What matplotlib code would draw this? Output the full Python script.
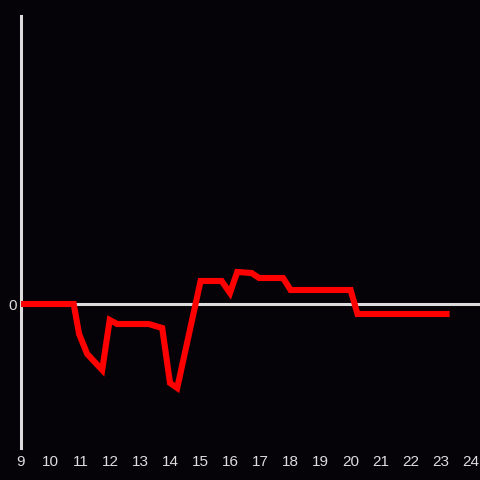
import matplotlib
matplotlib.use("Agg")
import matplotlib.pyplot as plt

hours = [9.0, 10.77, 10.95, 11.22, 11.72, 11.97, 12.22, 13.27, 13.72, 13.98, 14.22,
         15.0, 15.7, 15.98, 16.22, 16.7, 16.95, 17.75, 18.0, 20.0, 20.23, 23.3]
values = [0.0, 0.0, -3.0, -5.0, -6.6, -1.6, -2.0, -2.0, -2.4, -7.9, -8.4,
          2.3, 2.3, 1.1, 3.2, 3.1, 2.6, 2.6, 1.4, 1.4, -1.0, -1.0]
xticks = list(range(9, 25))
yticks = [0]

bg = "#050308"
fg = "#dcdcdc"

fig = plt.figure(figsize=(4.8, 4.8), dpi=100, facecolor=bg)
ax = fig.add_axes([20.6/480, 32/480, 459.4/480, 432/480], facecolor=bg)
ax.set_xlim(9, 9 + 459.4/30)
ax.set_ylim(-14.4, 28.8)

ax.axhline(0, color=fg, lw=2.2, zorder=1)
ax.plot(hours, values, color="#ff0000", lw=4.4, solid_joinstyle="miter",
        solid_capstyle="butt", zorder=3)

for s in ["top", "right", "bottom"]:
    ax.spines[s].set_visible(False)
ax.spines["left"].set_color(fg)
ax.spines["left"].set_linewidth(2.2)
ax.spines["left"].set_zorder(2)

ax.set_xticks(xticks)
ax.set_xticklabels([str(t) for t in xticks])
ax.set_yticks(yticks)
ax.set_yticklabels([str(t) for t in yticks])
ax.tick_params(axis="both", length=0, colors=fg, labelsize=11)
ax.tick_params(axis="x", pad=5)
ax.tick_params(axis="y", pad=3)
for lab in ax.get_xticklabels() + ax.get_yticklabels():
    lab.set_fontfamily("Liberation Sans")
    lab.set_color(fg)

fig.savefig("out.png", dpi=100, facecolor=bg)
